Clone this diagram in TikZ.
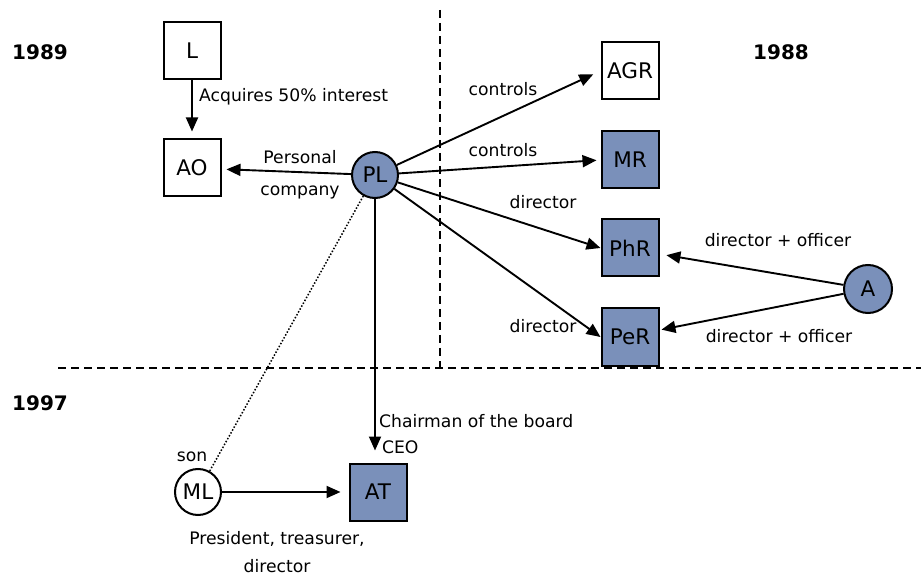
\documentclass[tikz,border=0pt]{standalone}
\usepackage{fontspec}
\setmainfont{DejaVu Sans}
\usetikzlibrary{arrows.meta}
\definecolor{boxblue}{RGB}{122,144,186}
\begin{document}
\begin{tikzpicture}[x=1pt,y=-1pt,
  box/.style={draw,line width=2pt,minimum size=57pt,inner sep=0pt,
    font=\fontsize{21.5}{24}\selectfont},
  filled/.style={fill=boxblue},
  person/.style={circle,draw,line width=2pt,minimum size=46pt,inner sep=0pt,
    font=\fontsize{21.5}{24}\selectfont},
  lbl/.style={font=\fontsize{17.2}{20}\selectfont,inner sep=0pt},
  year/.style={font=\fontsize{20}{22}\selectfont\bfseries,inner sep=0pt},
  arr/.style={line width=1.9pt,-{Triangle[length=14pt,width=12pt]}},
  divider/.style={line width=2pt,dash pattern=on 8pt off 5pt},
]
\useasboundingbox (0,0) rectangle (921,577);

% period dividers
\coordinate (vtop) at (440,10);
\coordinate (vbot) at (440,368);
\coordinate (hleft) at (58,368);
\coordinate (hright) at (921,368);
\draw[divider] (vtop) -- (vbot);
\draw[divider] (hleft) -- (hright);

% years
\node[year] (y1989) at (40,52) {1989};
\node[year] (y1988) at (781,52) {1988};
\node[year] (y1997) at (40,403) {1997};

% entities
\node[box] (L) at (192,51) {L};
\node[box] (AO) at (192,168) {AO};
\node[person,filled] (PL) at (375,175) {PL};
\node[box] (AGR) at (630,71) {AGR};
\node[box,filled] (MR) at (630,160) {MR};
\node[box,filled] (PhR) at (630,248) {PhR};
\node[box,filled] (PeR) at (630,337) {PeR};
\node[person,filled,minimum size=48pt] (A) at (868,289) {A};
\node[box,filled] (AT) at (378,492) {AT};
\node[person] (ML) at (198,492) {ML};

% relations
\draw[arr,shorten >=7pt] (L) -- (AO);
\draw[arr,shorten >=5pt] (PL) -- (AO);
\draw[arr,shorten >=8pt] (PL) -- (AGR.west);
\draw[arr,shorten >=4pt] (PL) -- (MR.west);
\draw[arr] (PL) -- (PhR.west);
\draw[arr] (PL) -- (PeR.west);
\draw[arr,shorten >=7pt] (A) -- ([yshift=-6pt]PhR.east);
\draw[arr,shorten >=2pt] (A) -- ([yshift=7pt]PeR.east);
\draw[arr,shorten >=12pt] (PL) -- (PL |- AT.north);
\draw[arr,shorten >=8pt] (ML) -- (AT);
\draw[line width=1.5pt,dash pattern=on 1.5pt off 1.8pt] (PL) -- (ML);

% relation labels
\node[lbl,anchor=west] (acq) at (199,97) {Acquires 50\% interest};
\node[lbl,align=center,font=\fontsize{17.2}{32}\selectfont] (pers) at (300,175) {Personal\\company};
\node[lbl] (ctl1) at (503,89) {controls};
\node[lbl] (ctl2) at (503,150) {controls};
\node[lbl] (dir1) at (543,202) {director};
\node[lbl] (dir2) at (543,326) {director};
\node[lbl] (dof1) at (778,240) {director + officer};
\node[lbl] (dof2) at (779,336) {director + officer};
\node[lbl,align=left,anchor=west,font=\fontsize{17.2}{26}\selectfont] (chair) at (379,434) {Chairman of the board\\\,CEO};
\node[lbl] (son) at (192,457) {son};
\node[lbl,align=center,font=\fontsize{17.2}{28}\selectfont] (pres) at (277,552) {President, treasurer,\\director};
\end{tikzpicture}
\end{document}
